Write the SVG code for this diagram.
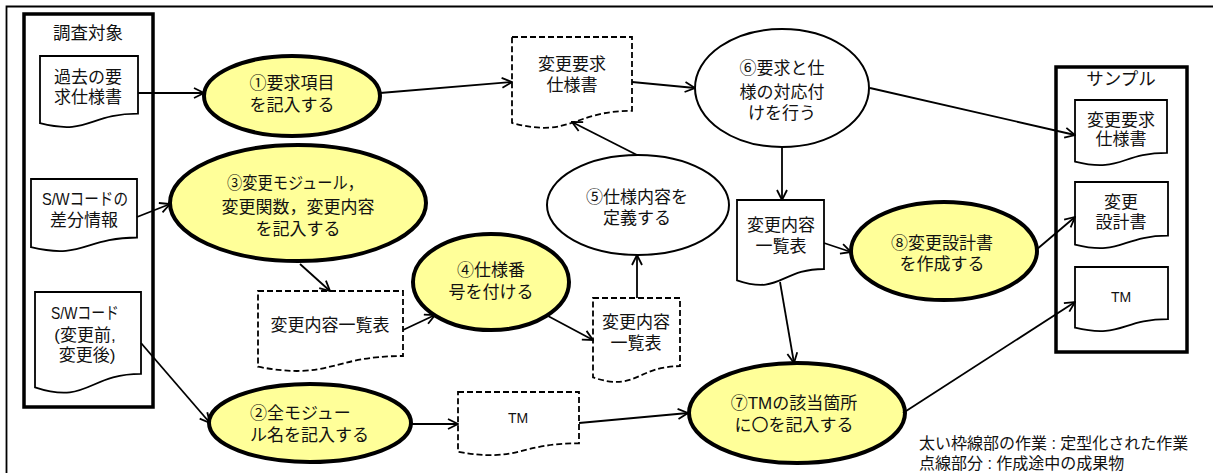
<svg xmlns="http://www.w3.org/2000/svg" width="1213" height="473" viewBox="0 0 1213 473">
<style>
text{font-family:"Liberation Sans","Noto Sans CJK JP",sans-serif;font-size:17px;fill:#111;text-anchor:middle;dominant-baseline:central}
.tm{font-size:14px}
.ttl{font-size:17.5px}
.lg{font-size:16px;text-anchor:start}
.box{fill:#fff;stroke:#000;stroke-width:3.5}
.doc{fill:#fff;stroke:#000;stroke-width:1.8}
.ddoc{fill:#fff;stroke:#000;stroke-width:1.8;stroke-dasharray:6 3}
.task{fill:#ffff99;stroke:#000;stroke-width:4}
.proc{fill:#fff;stroke:#000;stroke-width:2}
.con{fill:none;stroke:#000;stroke-width:1.8;marker-end:url(#arr)}
</style>
<defs>
<marker id="arr" viewBox="0 0 12 12" refX="11" refY="6" markerWidth="12" markerHeight="12" markerUnits="userSpaceOnUse" orient="auto">
<path d="M1,1 L11,6 L1,11" fill="none" stroke="#000" stroke-width="1.8"/>
</marker>
</defs>
<rect width="1213" height="473" fill="#fff"/>
<path d="M6.5,473 V6.5 H1213" fill="none" stroke="#000" stroke-width="1.8"/>

<g id="chosa">
<rect class="box" x="24" y="14" width="129" height="393"/>
<text class="ttl" x="88" y="33">調査対象</text>
</g>
<g id="doc-kako">
<path class="doc" d="M40,56 H138 V113.7 C89,113.7 89,135.7 40,123.2 Z"/>
<text x="88" y="77">過去の要</text>
<text x="88" y="97">求仕様書</text>
</g>
<g id="doc-sabun">
<path class="doc" d="M31,179 H137 V237.5 C84,237.5 84,259.8 31,247.2 Z"/>
<text x="85" y="199" textLength="86" lengthAdjust="spacingAndGlyphs">S/Wコードの</text>
<text x="84" y="220">差分情報</text>
</g>
<g id="doc-swcode">
<path class="doc" d="M35,292 H141 V373.8 C88,373.8 88,404.9 35,387.3 Z"/>
<text x="85" y="313" textLength="68" lengthAdjust="spacingAndGlyphs">S/Wコード</text>
<text x="85" y="335">(変更前,</text>
<text x="87" y="355">変更後)</text>
</g>

<g id="task1">
<ellipse class="task" cx="292" cy="96" rx="88" ry="40"/>
<text x="292" y="83">①要求項目</text>
<text x="292" y="105">を記入する</text>
</g>
<g id="task3">
<ellipse class="task" cx="298" cy="203" rx="128" ry="58"/>
<text x="295" y="183" textLength="136" lengthAdjust="spacingAndGlyphs">③変更モジュール，</text>
<text x="298" y="207">変更関数，変更内容</text>
<text x="298" y="229">を記入する</text>
</g>
<g id="task2">
<ellipse class="task" cx="310" cy="423" rx="101" ry="39"/>
<text x="250" y="413" style="text-anchor:start">②全モジュー</text>
<text x="250" y="435" style="text-anchor:start">ル名を記入する</text>
</g>
<g id="task4">
<ellipse class="task" cx="491" cy="282" rx="78" ry="48"/>
<text x="491" y="270">④仕様番</text>
<text x="491" y="292">号を付ける</text>
</g>
<g id="task7">
<ellipse class="task" cx="797" cy="413" rx="108" ry="50"/>
<text x="794" y="403">⑦TMの該当箇所</text>
<text x="794" y="425">に〇を記入する</text>
</g>
<g id="task8">
<ellipse class="task" cx="944" cy="251" rx="93" ry="49"/>
<text x="942" y="243">⑧変更設計書</text>
<text x="942" y="264">を作成する</text>
</g>
<g id="proc5">
<ellipse class="proc" cx="638" cy="205" rx="91" ry="50"/>
<text x="637" y="197">⑤仕様内容を</text>
<text x="637" y="218">定義する</text>
</g>
<g id="proc6">
<ellipse class="proc" cx="782" cy="88" rx="87" ry="59"/>
<text x="782" y="68">⑥要求と仕</text>
<text x="782" y="92">様の対応付</text>
<text x="782" y="113">けを行う</text>
</g>

<g id="ddoc-youkyu">
<path class="ddoc" d="M512,37 H632 V110.8 C572,110.8 572,138.8 512,122.9 Z"/>
<text x="572" y="64">変更要求</text>
<text x="572" y="85">仕様書</text>
</g>
<g id="ddoc-ichiran1">
<path class="ddoc" d="M258,291 H403 V356 C330.5,356 330.5,380.7 258,366.7 Z"/>
<text x="330" y="325">変更内容一覧表</text>
</g>
<g id="ddoc-ichiran2">
<path class="ddoc" d="M593,298 H680 V366.2 C636.5,366.2 636.5,392.1 593,377.4 Z"/>
<text x="636" y="322">変更内容</text>
<text x="636" y="343">一覧表</text>
</g>
<g id="ddoc-tm">
<path class="ddoc" d="M458,392 H579 V443.3 C518.5,443.3 518.5,462.8 458,451.8 Z"/>
<text class="tm" x="518" y="418">TM</text>
</g>
<g id="doc-ichiran">
<path class="doc" d="M737,200 H824 V269 C780.5,269 780.5,295.2 737,280.3 Z"/>
<text x="781" y="225">変更内容</text>
<text x="781" y="246">一覧表</text>
</g>

<g id="sample">
<rect class="box" x="1056" y="67" width="131" height="285"/>
<text class="ttl" x="1121" y="79">サンプル</text>
</g>
<g id="sample-youkyu">
<path class="doc" d="M1075,100 H1167 V152.9 C1121,152.9 1121,173.1 1075,161.6 Z"/>
<text x="1121" y="120">変更要求</text>
<text x="1121" y="139">仕様書</text>
</g>
<g id="sample-sekkei">
<path class="doc" d="M1075,182 H1168 V235.7 C1121.5,235.7 1121.5,256.2 1075,244.6 Z"/>
<text x="1121" y="202">変更</text>
<text x="1121" y="222">設計書</text>
</g>
<g id="sample-tm">
<path class="doc" d="M1075,267 H1168 V319.1 C1121.5,319.1 1121.5,339 1075,327.7 Z"/>
<text class="tm" x="1121" y="297">TM</text>
</g>

<g id="connectors">
<path class="con" d="M138,93 L204,93"/>
<path class="con" d="M380,93 L512,82"/>
<path class="con" d="M632,82 L695,88"/>
<path class="con" d="M870,88 L1075,135"/>
<path class="con" d="M782,147 L782,200"/>
<path class="con" d="M637,155 L572,122"/>
<path class="con" d="M137,217 L170,204"/>
<path class="con" d="M300,264 L330,291"/>
<path class="con" d="M403,330 L435,315"/>
<path class="con" d="M548,316 L593,340"/>
<path class="con" d="M637,298 L637,255"/>
<path class="con" d="M141,343 L210,423"/>
<path class="con" d="M411,424 L458,424"/>
<path class="con" d="M579,423 L688,413"/>
<path class="con" d="M824,243 L851,252"/>
<path class="con" d="M780,282 L794,363"/>
<path class="con" d="M1036,250 L1075,217"/>
<path class="con" d="M903,413 L1075,302"/>
</g>

<g id="legend">
<text class="lg" x="919" y="443">太い枠線部の作業 : 定型化された作業</text>
<text class="lg" x="919" y="463">点線部分 : 作成途中の成果物</text>
</g>
</svg>
